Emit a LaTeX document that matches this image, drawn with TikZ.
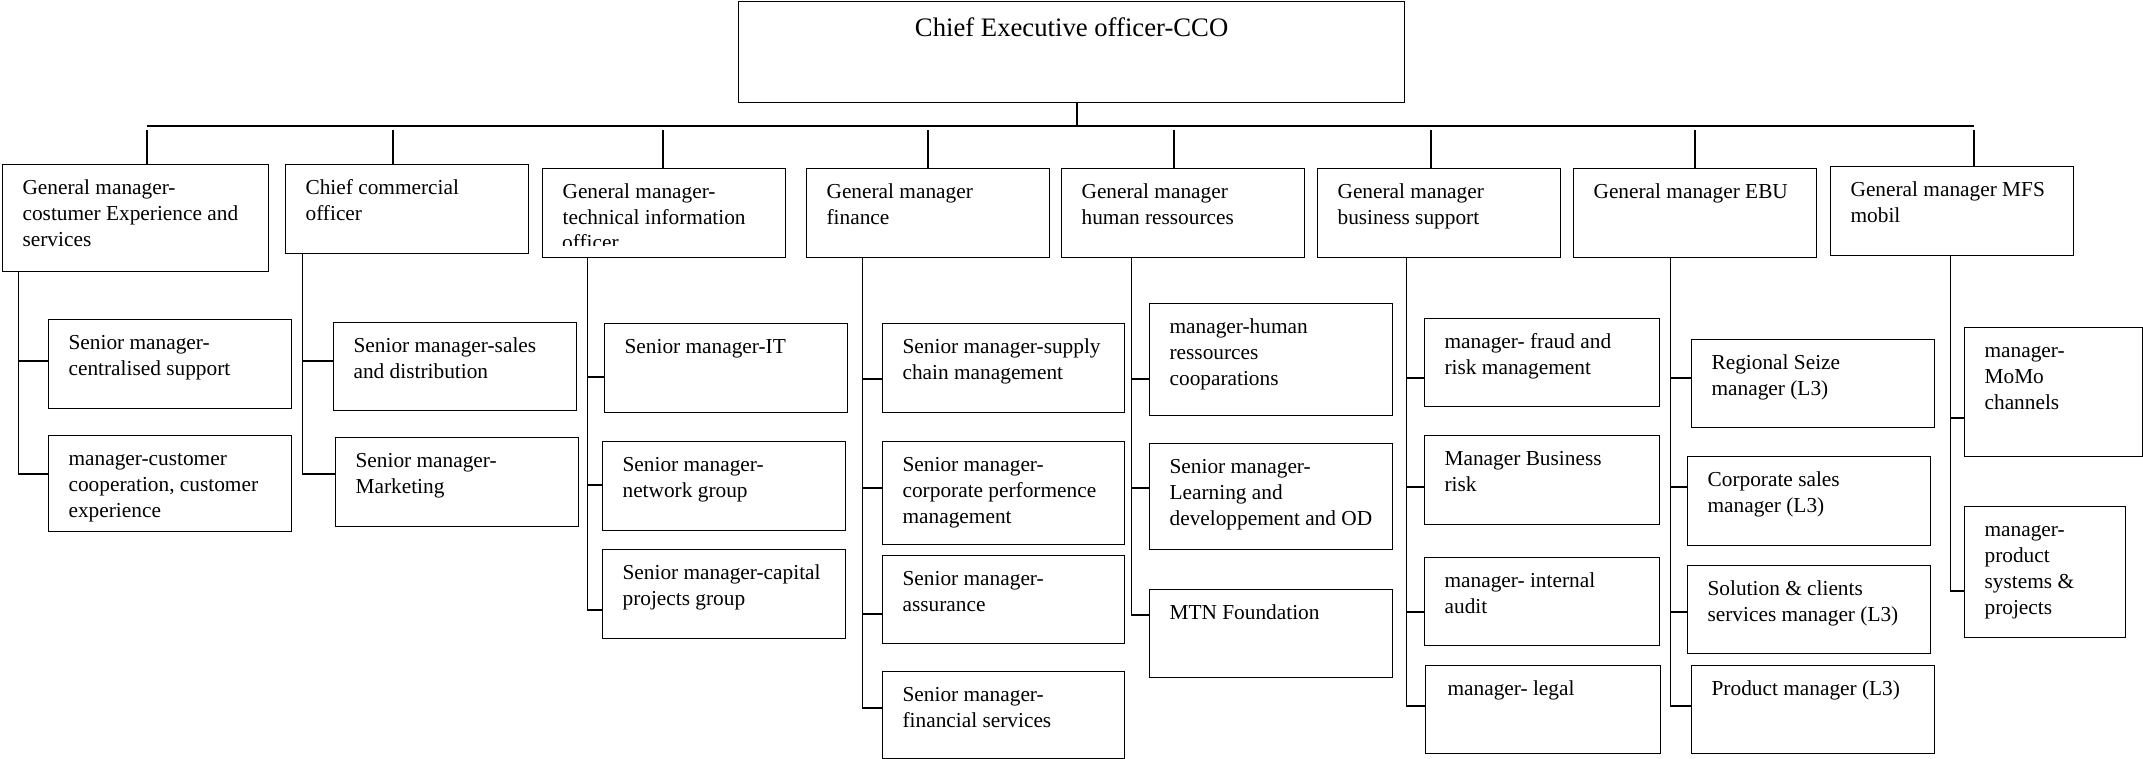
\documentclass[tikz,border=0pt]{standalone}
\usepackage{fontspec}
\setmainfont{Liberation Serif}
\usepackage{tikz}
\newcommand{\orgfont}{\fontsize{21.33}{26}\selectfont}
\newcommand{\orgtext}[3]{\parbox[b][#2][t]{#1}{\raggedright\leftskip=20pt\rule{0pt}{29.5pt}#3}}

\begin{document}
\begin{tikzpicture}[x=1pt,y=-1pt,
  orgbox/.style={draw,line width=1.2pt,inner sep=0pt,anchor=north west,font=\orgfont},
  busline/.style={line width=1.2pt},
  drop/.style={line width=2.4pt},
  trunk/.style={line width=1pt},
  branch/.style={line width=2.4pt}]
\useasboundingbox (0,0) rectangle (2143,759);
\node[orgbox,font=\fontsize{26.7}{32}\selectfont] (ceo) at (738,1) {\parbox[b][101pt][t]{666pt}{\centering\rule{0pt}{35pt}Chief Executive officer-CCO}};
% general managers
\node[orgbox] (gm1) at (2,164) {\orgtext{266pt}{107pt}{General manager-\\costumer Experience and\\services}};
\node[orgbox] (gm2) at (285,164) {\orgtext{243pt}{89pt}{Chief commercial\\officer}};
\node[orgbox] (gm3) at (542,168) {\orgtext{243pt}{89pt}{General manager-\\technical information}};
\node[orgbox] (gm4) at (806,168) {\orgtext{243pt}{89pt}{General manager\\finance}};
\node[orgbox] (gm5) at (1061,168) {\orgtext{243pt}{89pt}{General manager\\human ressources}};
\node[orgbox] (gm6) at (1317,168) {\orgtext{243pt}{89pt}{General manager\\business support}};
\node[orgbox] (gm7) at (1573,168) {\orgtext{243pt}{89pt}{General manager EBU}};
\node[orgbox] (gm8) at (1830,166) {\orgtext{243pt}{89pt}{General manager MFS\\mobil}};
\begin{scope}
  \clip (542,229) rectangle (785,246);
  \node[anchor=base west,inner sep=0pt,font=\orgfont] (gm3cut) at (562,249.5) {officer};
\end{scope}
% senior managers
\node[orgbox] (s1a) at (48,319) {\orgtext{243pt}{89pt}{Senior manager-\\centralised support}};
\node[orgbox] (s1b) at (48,435) {\orgtext{243pt}{96pt}{manager-customer\\cooperation, customer\\experience}};
\node[orgbox] (s2a) at (333,322) {\orgtext{243pt}{88pt}{Senior manager-sales\\and distribution}};
\node[orgbox] (s2b) at (335,437) {\orgtext{243pt}{89pt}{Senior manager-\\Marketing}};
\node[orgbox] (s3a) at (604,323) {\orgtext{243pt}{89pt}{Senior manager-IT}};
\node[orgbox] (s3b) at (602,441) {\orgtext{243pt}{89pt}{Senior manager-\\network group}};
\node[orgbox] (s3c) at (602,549) {\orgtext{243pt}{89pt}{Senior manager-capital\\projects group}};
\node[orgbox] (s4a) at (882,323) {\orgtext{242pt}{89pt}{Senior manager-supply\\chain management}};
\node[orgbox] (s4b) at (882,441) {\orgtext{242pt}{103pt}{Senior manager-\\corporate performence\\management}};
\node[orgbox] (s4c) at (882,555) {\orgtext{242pt}{88pt}{Senior manager-\\assurance}};
\node[orgbox] (s4d) at (882,671) {\orgtext{242pt}{87pt}{Senior manager-\\financial services}};
\node[orgbox] (s5a) at (1149,303) {\orgtext{243pt}{112pt}{manager-human\\ressources\\cooparations}};
\node[orgbox] (s5b) at (1149,443) {\orgtext{243pt}{106pt}{Senior manager-\\Learning and\\developpement and OD}};
\node[orgbox] (s5c) at (1149,589) {\orgtext{243pt}{88pt}{MTN Foundation}};
\node[orgbox] (s6a) at (1424,318) {\orgtext{235pt}{88pt}{manager- fraud and\\risk management}};
\node[orgbox] (s6b) at (1424,435) {\orgtext{235pt}{89pt}{Manager Business\\risk}};
\node[orgbox] (s6c) at (1424,557) {\orgtext{235pt}{88pt}{manager- internal\\audit}};
\node[orgbox] (s6d) at (1425,665) {\orgtext{235pt}{88pt}{\hspace{2pt}manager- legal}};
\node[orgbox] (s7a) at (1691,339) {\orgtext{243pt}{88pt}{Regional Seize\\manager (L3)}};
\node[orgbox] (s7b) at (1687,456) {\orgtext{243pt}{89pt}{Corporate sales\\manager (L3)}};
\node[orgbox] (s7c) at (1687,565) {\orgtext{243pt}{88pt}{Solution \& clients\\services manager (L3)}};
\node[orgbox] (s7d) at (1691,665) {\orgtext{243pt}{88pt}{Product manager (L3)}};
\node[orgbox] (s8a) at (1964,327) {\orgtext{178pt}{129pt}{manager-\\MoMo\\channels}};
\node[orgbox] (s8b) at (1964,506) {\orgtext{161pt}{131pt}{manager-\\product\\systems \&\\projects}};
% top bus
\coordinate (t0) at (1077,126);
\foreach \n/\x in {1/147,2/393,3/663,4/928,5/1174,6/1431,7/1695,8/1974}
  {\coordinate (t\n) at (\x,130);
   \draw[drop] (t\n) -- (t\n |- gm\n.north);}
\draw[busline] (t1 |- t0) -- (t8 |- t0);
\draw[drop] (t0 |- ceo.south) -- (t0);
% branches to the senior managers
\foreach \sub/\px/\py in {1a/18/361,1b/18/474,2a/302/361,2b/302/474,
    3a/587/377,3b/587/485,3c/587/610,
    4a/862/379,4b/862/488,4c/862/614,4d/862/708,
    5a/1131/379,5b/1131/488,5c/1131/615,
    6a/1406/378,6b/1406/487,6c/1406/612,6d/1406/706,
    7a/1670/378,7b/1670/487,7c/1670/612,7d/1670/706,
    8a/1950/418,8b/1950/591}
  {\coordinate (k\sub) at (\px,\py);
   \draw[branch] (k\sub) -- (k\sub -| s\sub.west);}
\foreach \c/\last in {1/1b,2/2b,3/3c,4/4d,5/5c,6/6d,7/7d,8/8b}
  \draw[trunk] (k\c a |- gm\c.south) -- (k\last);
\end{tikzpicture}
\end{document}
